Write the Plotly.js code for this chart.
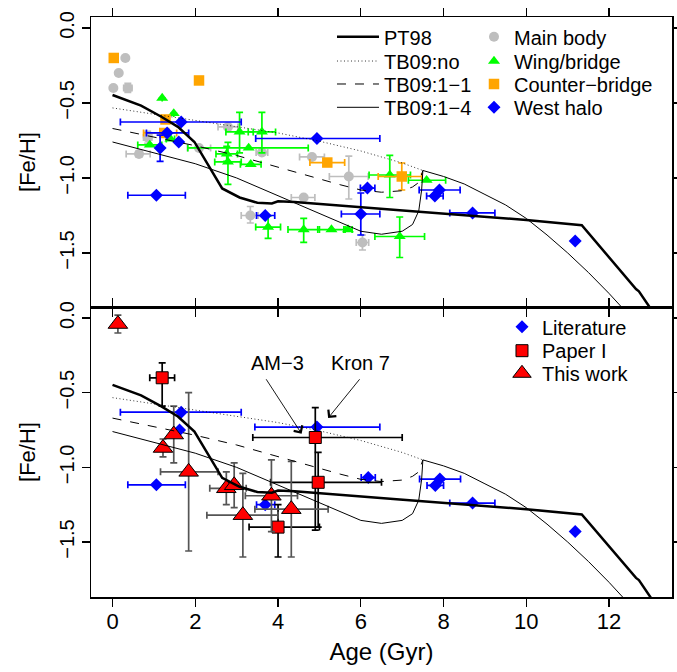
<!DOCTYPE html>
<html><head><meta charset="utf-8">
<script src="https://cdn.plot.ly/plotly-3.0.1.min.js"></script>
<style>body{margin:0;background:#fff}#chart{width:677px;height:672px}</style>
</head><body><div id="chart"></div>
<script>
// ---------- model curves ----------
const pt98Age = [0,0.69,1.18,1.58,1.98,2.35,2.65,3.07,3.5,3.85,4.0,4.4,5.25,6.94,10.0,11.34,12.65,12.72,13.1];
const pt98FeH = [-0.447,-0.518,-0.592,-0.659,-0.76,-0.927,-1.07,-1.13,-1.165,-1.17,-1.155,-1.16,-1.18,-1.215,-1.28,-1.315,-1.74,-1.755,-1.91];
const tbNoAge = [0,1,2,3,4,5,6,7,7.5];
const tbNoFeH = [-0.533,-0.575,-0.618,-0.66,-0.70,-0.755,-0.82,-0.90,-0.95];
const tb11Age = [0,1,2,3,4,5,5.5,6,6.5,7,7.25,7.4,7.5];
const tb11FeH = [-0.67,-0.725,-0.785,-0.85,-0.93,-1.01,-1.045,-1.08,-1.095,-1.085,-1.06,-1.03,-0.95];
const tb14Age = [0,1,2,3,4,5,5.5,6,6.5,7,7.25,7.4,7.47,7.5,8,8.5,9,9.5,10,10.5,11,11.5,12,12.5];
const tb14FeH = [-0.76,-0.83,-0.905,-1.0,-1.12,-1.24,-1.30,-1.355,-1.375,-1.355,-1.31,-1.22,-1.08,-0.95,-0.99,-1.04,-1.11,-1.18,-1.27,-1.38,-1.50,-1.63,-1.77,-1.92];

// ---------- top panel: clusters ----------
const mbX  = [0.31,0.15,0.02,0.37,0.64,0.85,2.09,2.79,3.61,4.82,4.62,3.33,5.71,6.04];
const mbY  = [-0.20,-0.30,-0.40,-0.40,-0.84,-0.73,-0.80,-0.66,-0.83,-0.86,-1.13,-1.25,-0.99,-1.43];
const mbXm = [0,0,0,0.10,0.31,0.10,0.28,0.24,0.14,0.30,0.30,0.22,0.47,0.15];
const mbXp = [0,0,0,0.10,0.27,0.10,0.28,0.24,0.14,0.30,0.27,0.19,0.47,0.15];
const mbYm = [0,0,0,0.03,0.02,0.04,0,0,0,0,0,0.05,0.15,0.05];
const mbYp = [0,0,0,0.03,0.02,0.04,0,0,0,0,0,0.06,0.135,0.05];

const wbX  = [1.20,1.48,0.90,1.40,3.07,3.61,3.29,2.76,2.79,3.34,3.76,4.62,5.29,5.69,6.70,7.59,6.94];
const wbY  = [-0.467,-0.57,-0.78,-0.74,-0.693,-0.693,-0.80,-0.84,-0.893,-0.909,-1.327,-1.344,-1.344,-1.344,-0.98,-1.015,-1.39];
const wbXm = [0,0,0.29,0.10,0.33,0.33,1.47,0.26,0.32,0.25,0.30,0.38,0.33,0.10,0.50,0.44,0.60];
const wbXp = [0,0,0.29,0.10,0.33,0.33,1.44,0.26,0.32,0.25,0.30,0.38,0.33,0.10,0.50,0.46,0.60];
const wbYm = [0,0,0,0,0.14,0.14,0,0.05,0.15,0,0.075,0.085,0,0,0.15,0,0.14];
const wbYp = [0,0,0,0,0.13,0.13,0,0.05,0.13,0,0.075,0.075,0,0,0.13,0,0.13];

const cbX  = [0.03,2.09,1.28,1.25,5.19,6.99];
const cbY  = [-0.20,-0.35,-0.61,-0.70,-0.897,-0.99];
const cbXm = [0,0.10,0,0.50,0.42,0.57];
const cbXp = [0,0.10,0,0.30,0.42,0.48];
const cbYm = [0,0.02,0,0,0,0.09];
const cbYp = [0,0.02,0,0,0,0.09];

const whX  = [1.66,1.32,1.60,1.15,1.06,4.94,3.69,6.16,6.00,7.90,7.79,8.70,11.18];
const whY  = [-0.627,-0.70,-0.76,-0.80,-1.115,-0.737,-1.25,-1.067,-1.24,-1.08,-1.12,-1.233,-1.42];
const whXm = [1.47,0.50,0,0,0.69,1.48,0.21,0.17,0.47,0.49,0.20,0.55,0];
const whXp = [1.45,0.52,0,0,0.70,1.52,0.23,0.18,0.46,0.50,0.20,0.54,0];
const whYm = [0,0,0,0.09,0,0,0,0,0.14,0,0,0,0];
const whYp = [0,0,0,0.085,0,0,0,0,0.14,0,0,0,0];

// ---------- bottom panel ----------
const litX  = [1.66,1.62,1.06,3.69,4.94,6.18,7.91,7.80,8.70,11.18];
const litY  = [-0.63,-0.75,-1.117,-1.25,-0.73,-1.068,-1.078,-1.121,-1.239,-1.429];
const litXm = [1.47,0,0.69,0.21,1.50,0.17,0.49,0.20,0.55,0];
const litXp = [1.45,0,0.70,0.23,1.52,0.17,0.50,0.20,0.54,0];

const p1X  = [1.20,4.90,4.97,4.00];
const p1Y  = [-0.40,-0.80,-1.10,-1.40];
const p1Xm = [0.30,1.51,1.15,0.70];
const p1Xp = [0.30,2.10,1.53,1.00];
const p1Ym = [0.19,0.62,0.30,0.20];
const p1Yp = [0.10,0.20,0.20,0.15];

const twX  = [0.13,1.48,1.22,1.84,2.75,2.94,3.15,3.84,4.32];
const twY  = [-0.04,-0.78,-0.87,-1.03,-1.14,-1.12,-1.32,-1.19,-1.28];
const twXm = [0.05,0.08,0.07,0.68,0.40,0.10,0.87,0.63,0.88];
const twXp = [0.05,0.08,0.07,0.71,0.48,0.10,0.85,0.63,0.89];
const twYm = [0.06,0.19,0.06,0.53,0.11,0.15,0.28,0.24,0.32];
const twYp = [0.06,0.19,0.06,0.53,0.11,0.15,0.28,0.24,0.32];

const yTickVals = [0,-0.5,-1,-1.5];
const yTickText = ['0.0','\u22120.5','\u22121.0','\u22121.5'];
const xTickVals = [0,2,4,6,8,10,12];

const FONT = 'Liberation Sans, Arial, Helvetica, sans-serif';

function pts(name, x, y, xm, xp, ym, yp, symbol, size, color, ecolor, xa, ya, legend, outline) {
  const t = {
    type: 'scatter', mode: 'markers', name: name, x: x, y: y, xaxis: xa, yaxis: ya,
    marker: {symbol: symbol, size: size, color: color,
             line: {width: outline ? 1 : 0, color: outline ? '#000' : color}},
    error_x: {type: 'data', symmetric: false, array: xp, arrayminus: xm, color: ecolor, thickness: 1.7, width: 3.5},
    showlegend: !!legend, hoverinfo: 'x+y'
  };
  if (legend) t.legend = legend;
  if (ym) t.error_y = {type: 'data', symmetric: false, array: yp, arrayminus: ym, color: ecolor, thickness: 1.7, width: 3.5};
  return t;
}
function curve(name, x, y, width, dash, xa, ya, legend) {
  const t = {type: 'scatter', mode: 'lines', name: name, x: x, y: y, xaxis: xa, yaxis: ya,
    line: {color: '#000', width: width, dash: dash}, showlegend: !!legend, hoverinfo: 'skip'};
  if (legend) t.legend = legend;
  return t;
}

const DOT = '1px,2.5px';
const traces = [
  pts('Main body', mbX, mbY, mbXm, mbXp, mbYm, mbYp, 'circle', 10, '#BEBEBE', '#BEBEBE', 'x2', 'y2', 'legend5'),
  pts('Wing/bridge', wbX, wbY, wbXm, wbXp, wbYm, wbYp, 'triangle-up', 10.5, '#00FF00', '#00FF00', 'x2', 'y2', 'legend6'),
  pts('Counter\u2212bridge', cbX, cbY, cbXm, cbXp, cbYm, cbYp, 'square', 10.5, '#FFA500', '#FFA500', 'x2', 'y2', 'legend7'),
  pts('West halo', whX, whY, whXm, whXp, whYm, whYp, 'diamond', 10, '#0000FF', '#0000FF', 'x2', 'y2', 'legend8'),
  curve('PT98', pt98Age, pt98FeH, 2.5, 'solid', 'x2', 'y2', 'legend'),
  curve('TB09:no', tbNoAge, tbNoFeH, 0.8, DOT, 'x2', 'y2', 'legend2'),
  curve('TB09:1\u22121', tb11Age, tb11FeH, 1, 'dash', 'x2', 'y2', 'legend3'),
  curve('TB09:1\u22124', tb14Age, tb14FeH, 1, 'solid', 'x2', 'y2', 'legend4'),

  pts('Literature', litX, litY, litXm, litXp, null, null, 'diamond', 10, '#0000FF', '#0000FF', 'x', 'y', 'legend9'),
  pts('Paper I', p1X, p1Y, p1Xm, p1Xp, p1Ym, p1Yp, 'square', 12, '#FF0000', '#000', 'x', 'y', 'legend10', true),
  pts('This work', twX, twY, twXm, twXp, twYm, twYp, 'triangle-up', 17, '#FF0000', '#555', 'x', 'y', 'legend11', true),
  curve('PT98', pt98Age, pt98FeH, 2.5, 'solid', 'x', 'y'),
  curve('TB09:no', tbNoAge, tbNoFeH, 0.8, DOT, 'x', 'y'),
  curve('TB09:1\u22121', tb11Age, tb11FeH, 1, 'dash', 'x', 'y'),
  curve('TB09:1\u22124', tb14Age, tb14FeH, 1, 'solid', 'x', 'y')
];

const axBase = {
  showgrid: false, zeroline: false, showline: true, linecolor: '#000', linewidth: 1.5,
  mirror: 'ticks', ticks: 'outside', ticklen: 8, tickwidth: 1.2, tickcolor: '#000',
  tickfont: {family: FONT, size: 20, color: '#000'}
};
const xRange = [-0.52, 13.52];

function leg(x, y, iw) {
  return {x: x, y: y, xanchor: 'left', yanchor: 'middle', bgcolor: 'rgba(0,0,0,0)', borderwidth: 0,
          font: {family: FONT, size: 20, color: '#000'}, itemwidth: iw || 30};
}
const LX1 = 0.4148, LX2 = 0.6592, LX3 = 0.7074;
const layout = {
  width: 677, height: 672,
  margin: {l: 91, r: 5, t: 17, b: 75},
  paper_bgcolor: '#fff', plot_bgcolor: '#fff',
  font: {family: FONT, size: 20, color: '#000'},
  xaxis: Object.assign({}, axBase, {domain: [0, 1], anchor: 'y', range: xRange, tickvals: xTickVals,
    tickfont: {family: FONT, size: 22, color: '#000'}, ticklabelstandoff: -4,
    title: {text: 'Age (Gyr)', font: {family: FONT, size: 24}, standoff: 10}}),
  yaxis: Object.assign({}, axBase, {domain: [0, 0.5], anchor: 'x', range: [-1.868, 0.074], tickvals: yTickVals,
    ticktext: yTickText, tickangle: -90, title: {text: '[Fe/H]', font: {family: FONT, size: 22}, standoff: 14}}),
  xaxis2: Object.assign({}, axBase, {domain: [0, 1], anchor: 'y2', range: xRange, tickvals: xTickVals,
    showticklabels: false, matches: 'x'}),
  yaxis2: Object.assign({}, axBase, {domain: [0.5, 1], anchor: 'x2', range: [-1.86, 0.073], tickvals: yTickVals,
    ticktext: yTickText, tickangle: -90, title: {text: '[Fe/H]', font: {family: FONT, size: 22}, standoff: 14}}),
  legend: leg(LX1, 0.9660, 42), legend2: leg(LX1, 0.9241, 42), legend3: leg(LX1, 0.8845, 42), legend4: leg(LX1, 0.8443, 42),
  legend5: leg(LX2, 0.9660), legend6: leg(LX2, 0.9241), legend7: leg(LX2, 0.8845), legend8: leg(LX2, 0.8443),
  legend9: leg(LX3, 0.4660), legend10: leg(LX3, 0.4247), legend11: leg(LX3, 0.3857),
  annotations: [
    {x: 3.99, y: -0.30, xref: 'x', yref: 'y', text: 'AM\u22123', showarrow: false, font: {family: FONT, size: 20}},
    {x: 6.0, y: -0.30, xref: 'x', yref: 'y', text: 'Kron 7', showarrow: false, font: {family: FONT, size: 20}},
    {x: 4.57, y: -0.775, ax: 3.69, ay: -0.40, xref: 'x', yref: 'y', axref: 'x', ayref: 'y', text: '',
     showarrow: true, arrowhead: 4, arrowsize: 2.2, arrowwidth: 0.9, arrowcolor: '#000'},
    {x: 5.21, y: -0.67, ax: 6.0, ay: -0.40, xref: 'x', yref: 'y', axref: 'x', ayref: 'y', text: '',
     showarrow: true, arrowhead: 4, arrowsize: 2.2, arrowwidth: 0.9, arrowcolor: '#000'}
  ]
};

Plotly.newPlot('chart', traces, layout, {staticPlot: true, displayModeBar: false});
</script></body></html>
